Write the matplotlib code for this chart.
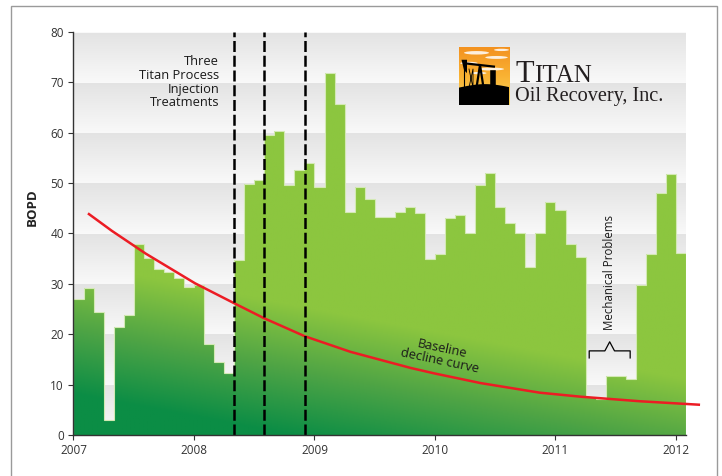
import numpy as np
import matplotlib
matplotlib.use('Agg')
import matplotlib.pyplot as plt
from matplotlib.colors import LinearSegmentedColormap
from matplotlib.patches import PathPatch, Rectangle, Polygon, Ellipse
from matplotlib.path import Path

# ---------------- data ----------------
start_year = 2007
bopd = [26.9, 29.1, 24.5, 3.0, 21.5, 23.9, 38.0, 35.2, 32.9, 32.4, 31.2, 29.3,
        29.8, 18.1, 14.4, 12.4, 34.7, 49.9, 50.6, 59.5, 60.3, 49.6, 52.6, 53.9,
        49.3, 71.8, 65.7, 44.2, 49.3, 46.8, 43.2, 43.2, 44.2, 45.2, 44.0, 34.9,
        36.0, 43.0, 43.7, 40.0, 49.6, 52.0, 45.2, 42.0, 40.0, 33.4, 40.0, 46.2,
        44.6, 38.0, 35.3, 7.5, 7.1, 11.7, 11.7, 11.2, 29.8, 35.9, 48.0, 51.8, 36.2]

curve_x = [2007.12, 2007.32, 2007.60, 2008.01, 2008.33, 2008.58, 2008.92, 2009.30,
           2009.55, 2009.80, 2010.00, 2010.38, 2010.87, 2011.21, 2011.70, 2012.20]
curve_y = [44.0, 40.5, 36.0, 30.1, 26.2, 23.2, 19.6, 16.5,
           14.9, 13.3, 12.2, 10.3, 8.4, 7.6, 6.7, 6.0]

treatment_dates = [2008.331, 2008.585, 2008.923]
treatment_lines = ["Three", "Titan Process", "Injection", "Treatments"]

year_ticks = [2007, 2008, 2009, 2010, 2011, 2012]
y_ticks = [0, 10, 20, 30, 40, 50, 60, 70, 80]

# ---------------- figure ----------------
plt.rcParams['font.family'] = ['Open Sans', 'DejaVu Sans']
fig = plt.figure(figsize=(7.22, 4.76), dpi=100)
fig.patch.set_facecolor('white')

# outer frame
fig.patches.append(Rectangle((11 / 722, -0.2), (717 - 11) / 722, 1.2 - 6 / 476,
                             transform=fig.transFigure, fill=False,
                             edgecolor='#9a9a9a', lw=1.0))

ax = fig.add_axes([73 / 722, 41 / 476, 613 / 722, 403 / 476])
n = len(bopd)
x_months = start_year + np.arange(n) / 12.0
x0, x1 = start_year - 0.004, start_year + n / 12.0
ax.set_xlim(x0, x1)
ax.set_ylim(0, 80)
ax.set_facecolor('none')

# banded background
yy = np.linspace(0, 80, 801)
frac = (yy % 10) / 10.0
bg_cmap = LinearSegmentedColormap.from_list('bg', ['#f9f9f9', '#e3e3e3'])
bg = bg_cmap(frac)[:, None, :] * np.ones((1, 2, 1))
ax.imshow(bg, extent=[x0, x1, 0, 80], origin='lower', aspect='auto',
          interpolation='nearest', zorder=0)

# bars (invisible patches used as clip region for the gradient)
bars = ax.bar(x_months, bopd, width=1 / 12.0, align='edge',
              facecolor='none', edgecolor='none', zorder=1)
paths = [b.get_path().transformed(b.get_patch_transform()) for b in bars]
clip_path = Path.make_compound_path(*paths)
clip_patch = PathPatch(clip_path, transform=ax.transData, facecolor='none',
                       edgecolor='none')
ax.add_patch(clip_patch)

gx = np.linspace(x0, x1, 400)
gy = np.linspace(0, 80, 400)
GX, GY = np.meshgrid(gx, gy)
t = np.clip((GY + 4.5 * (GX - 2007) - 8.0) / 26.0, 0, 1)
g_cmap = LinearSegmentedColormap.from_list('g', ['#0b8d45', '#4ea445', '#8cc63f'])
im = ax.imshow(g_cmap(t), extent=[x0, x1, 0, 80], origin='lower', aspect='auto',
               interpolation='bilinear', zorder=1)
im.set_clip_path(clip_patch)

edges = np.append(x_months, x_months[-1] + 1 / 12.0)
ax.stairs(bopd, edges, baseline=0, color='#d3e9b4', lw=0.8, zorder=2)

# baseline decline curve
ax.plot(curve_x, curve_y, color='#ec1c24', lw=1.8, zorder=3, clip_on=False,
        solid_capstyle='butt', solid_joinstyle='round')

# treatment dashed lines
for d in treatment_dates:
    ax.plot([d, d], [0, 80], color='black', lw=1.8, linestyle=(0, (4.4, 1.5)),
            zorder=4)

# annotations
for i, line in enumerate(treatment_lines):
    ax.text(2008.209, 73.4 - i * 2.72, line, ha='right', va='baseline',
            fontsize=9.3, color='#1a1a1a', zorder=5)

ax.text(2010.05, 15.9, "Baseline\ndecline curve", ha='center', va='center',
        rotation=-12, rotation_mode='anchor', fontsize=9.3, color='#1a1a1a',
        linespacing=1.0, zorder=5)

ax.text(2011.445, 32.2, "Mechanical Problems", rotation=90, ha='center',
        va='center', fontsize=8.3, color='#1a1a1a', zorder=5)
bx = [2011.28, 2011.28, 2011.41, 2011.45, 2011.49, 2011.62, 2011.62]
by = [15.3, 16.7, 16.7, 18.5, 16.7, 16.7, 15.3]
ax.plot(bx, by, color='black', lw=0.9, zorder=5)

# axes styling
for s in ['top', 'right']:
    ax.spines[s].set_visible(False)
ax.spines['left'].set_color('#333333')
ax.spines['bottom'].set_color('#333333')
ax.spines['left'].set_linewidth(1.0)
ax.spines['bottom'].set_linewidth(1.0)
ax.spines['left'].set_zorder(6)
ax.spines['bottom'].set_zorder(6)
ax.set_xticks(year_ticks)
ax.set_xticklabels([str(y) for y in year_ticks])
ax.set_yticks(y_ticks)
ax.tick_params(axis='both', labelsize=8.5, colors='#333333', length=3.5,
               width=0.8, pad=3, direction='out')
ax.text(-0.067, 0.566, "BOPD", transform=ax.transAxes, rotation=90,
        ha='center', va='center', fontsize=9.5, fontweight='bold', color='#222222')

# ---------------- logo ----------------
lax = fig.add_axes([459 / 722, 1 - 105 / 476, 50 / 722, 58 / 476])
lax.set_xlim(0, 1)
lax.set_ylim(0, 1)
lax.axis('off')
sky = LinearSegmentedColormap.from_list('sky', ['#fcd55a', '#f9b233', '#f39220'])
lax.imshow(sky(np.linspace(0, 1, 100))[:, None, :], extent=[0, 1, 0, 1],
           origin='lower', aspect='auto')
for (cx, cy, w, h) in [(0.35, 0.9, 0.5, 0.06), (0.75, 0.82, 0.45, 0.05),
                       (0.2, 0.72, 0.35, 0.05), (0.65, 0.62, 0.5, 0.05),
                       (0.85, 0.95, 0.3, 0.04), (0.4, 0.55, 0.3, 0.04)]:
    lax.add_patch(Ellipse((cx, cy), w, h, facecolor='white', alpha=0.85,
                          edgecolor='none'))
hill_x = np.linspace(0, 1, 30)
hill_y = 0.3 + 0.06 * np.sin(hill_x * 3.0)
lax.add_patch(Polygon(np.column_stack([np.r_[0, hill_x, 1], np.r_[0, hill_y, 0]]),
                      facecolor='black', edgecolor='none'))
k = dict(color='black', lw=1.6, solid_capstyle='butt')
lax.plot([0.1, 0.72], [0.72, 0.66], **k)           # walking beam
lax.plot([0.35, 0.42, 0.49], [0.3, 0.69, 0.3], **k)  # A-frame
lax.plot([0.68, 0.68], [0.3, 0.55], color='black', lw=4)
lax.add_patch(Polygon([[0.05, 0.78], [0.16, 0.78], [0.16, 0.55], [0.1, 0.6]],
                      facecolor='black', edgecolor='none'))
lax.plot([0.1, 0.1], [0.3, 0.6], color='black', lw=0.8)
lax.plot([0.2, 0.28, 0.28, 0.2], [0.3, 0.62, 0.3, 0.62], color='black', lw=0.6)

t1 = fig.text(515 / 722, 1 - 82 / 476, "T", fontsize=22, family='Liberation Serif',
              color='#231f20', va='baseline', ha='left')
fig.canvas.draw()
bb = t1.get_window_extent()
fig.text(bb.x1 / fig.bbox.width, 1 - 82 / 476, "ITAN", fontsize=18,
         family='Liberation Serif', color='#231f20', va='baseline', ha='left')
fig.text(515 / 722, 1 - 100.5 / 476, "Oil Recovery, Inc.", fontsize=14.6,
         family='Liberation Serif', color='#231f20', va='baseline', ha='left')

fig.savefig('out.png', dpi=100)
